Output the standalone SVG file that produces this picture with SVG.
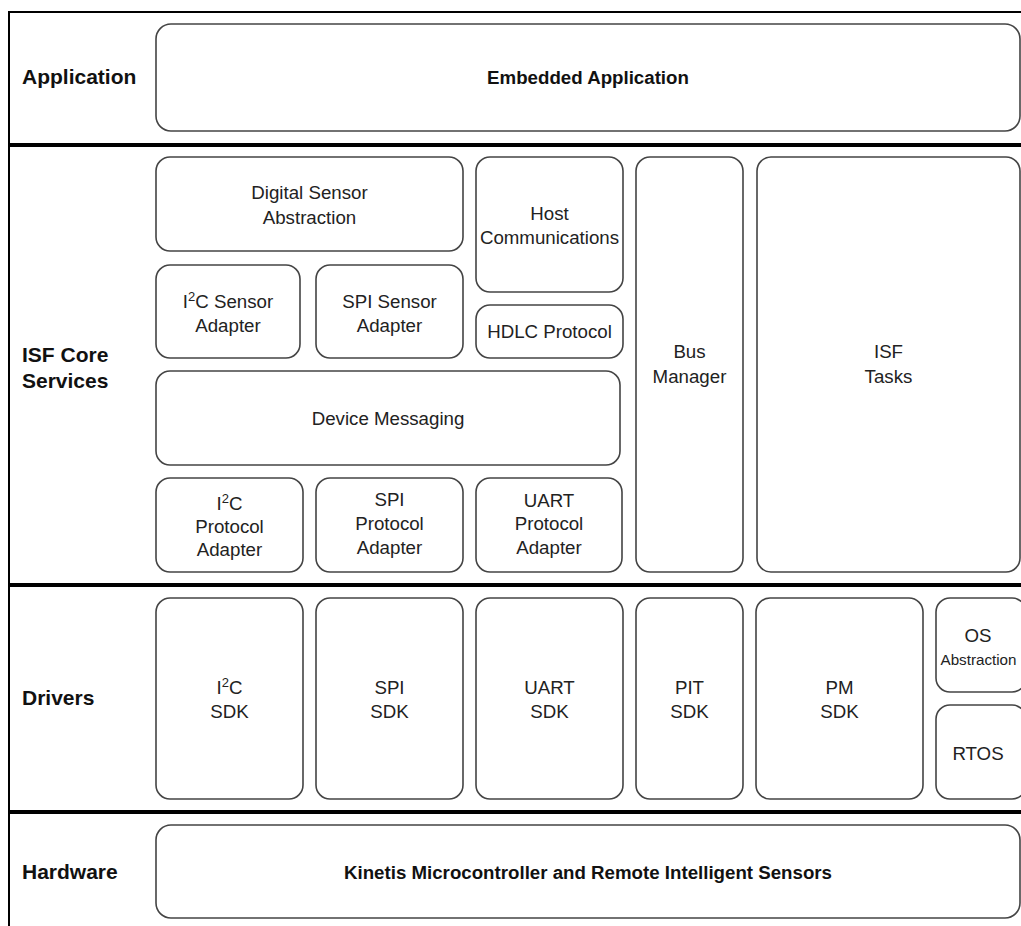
<svg xmlns="http://www.w3.org/2000/svg" width="1021" height="926" viewBox="0 0 1021 926">
<style>
.box{fill:#fff;stroke:#444;stroke-width:1.6}
.t{font-family:"Liberation Sans",Arial,sans-serif;font-size:18.7px;fill:#222;text-anchor:middle}
.t.sm{font-size:15.2px}
.b{font-family:"Liberation Sans",Arial,sans-serif;font-size:18.7px;font-weight:bold;fill:#111;text-anchor:middle}
.lab{font-family:"Liberation Sans",Arial,sans-serif;font-size:21px;font-weight:bold;fill:#111}
.sep{stroke:#000;stroke-width:3.8}
.frame{stroke:#000;stroke-width:2;fill:none}
</style>
<rect width="1021" height="926" fill="#fff"/>
<g id="frame">
<line class="frame" x1="9" y1="12" x2="1021" y2="12"/>
<line class="frame" x1="9" y1="11" x2="9" y2="926"/>
<line class="sep" x1="8" y1="145" x2="1021" y2="145"/>
<line class="sep" x1="8" y1="585" x2="1021" y2="585"/>
<line class="sep" x1="8" y1="812" x2="1021" y2="812"/>
</g>
<g id="labels">
<text class="lab" x="22" y="84">Application</text>
<text class="lab" x="22" y="362">ISF Core</text>
<text class="lab" x="22" y="388">Services</text>
<text class="lab" x="22" y="705">Drivers</text>
<text class="lab" x="22" y="879">Hardware</text>
</g>
<g id="embedded-application">
<rect class="box" x="156" y="24" width="864" height="107" rx="15"/>
<text class="b" x="588" y="84">Embedded Application</text>
</g>
<g id="digital-sensor-abstraction">
<rect class="box" x="156" y="157" width="307" height="94" rx="14"/>
<text class="t" x="309.5" y="199">Digital Sensor</text>
<text class="t" x="309.5" y="224">Abstraction</text>
</g>
<g id="i2c-sensor-adapter">
<rect class="box" x="156" y="265" width="144" height="93" rx="14"/>
<text class="t" x="228" y="308">I<tspan font-size="13" dy="-7">2</tspan><tspan dy="7">C Sensor</tspan></text>
<text class="t" x="228" y="332">Adapter</text>
</g>
<g id="spi-sensor-adapter">
<rect class="box" x="316" y="265" width="147" height="93" rx="14"/>
<text class="t" x="389.5" y="308">SPI Sensor</text>
<text class="t" x="389.5" y="332">Adapter</text>
</g>
<g id="host-communications">
<rect class="box" x="476" y="157" width="147" height="135" rx="14"/>
<text class="t" x="549.5" y="220">Host</text>
<text class="t" x="549.5" y="244">Communications</text>
</g>
<g id="hdlc-protocol">
<rect class="box" x="476" y="305" width="147" height="53" rx="14"/>
<text class="t" x="549.5" y="338">HDLC Protocol</text>
</g>
<g id="bus-manager">
<rect class="box" x="636" y="157" width="107" height="415" rx="14"/>
<text class="t" x="689.5" y="358">Bus</text>
<text class="t" x="689.5" y="383">Manager</text>
</g>
<g id="isf-tasks">
<rect class="box" x="757" y="157" width="263" height="415" rx="14"/>
<text class="t" x="888.5" y="358">ISF</text>
<text class="t" x="888.5" y="383">Tasks</text>
</g>
<g id="device-messaging">
<rect class="box" x="156" y="371" width="464" height="94" rx="14"/>
<text class="t" x="388" y="425">Device Messaging</text>
</g>
<g id="i2c-protocol-adapter">
<rect class="box" x="156" y="478" width="147" height="94" rx="14"/>
<text class="t" x="229.5" y="510">I<tspan font-size="13" dy="-7">2</tspan><tspan dy="7">C</tspan></text>
<text class="t" x="229.5" y="533">Protocol</text>
<text class="t" x="229.5" y="556">Adapter</text>
</g>
<g id="spi-protocol-adapter">
<rect class="box" x="316" y="478" width="147" height="94" rx="14"/>
<text class="t" x="389.5" y="506">SPI</text>
<text class="t" x="389.5" y="530">Protocol</text>
<text class="t" x="389.5" y="554">Adapter</text>
</g>
<g id="uart-protocol-adapter">
<rect class="box" x="476" y="478" width="146" height="94" rx="14"/>
<text class="t" x="549" y="507">UART</text>
<text class="t" x="549" y="530">Protocol</text>
<text class="t" x="549" y="554">Adapter</text>
</g>
<g id="i2c-sdk">
<rect class="box" x="156" y="598" width="147" height="201" rx="14"/>
<text class="t" x="229.5" y="694">I<tspan font-size="13" dy="-7">2</tspan><tspan dy="7">C</tspan></text>
<text class="t" x="229.5" y="718">SDK</text>
</g>
<g id="spi-sdk">
<rect class="box" x="316" y="598" width="147" height="201" rx="14"/>
<text class="t" x="389.5" y="694">SPI</text>
<text class="t" x="389.5" y="718">SDK</text>
</g>
<g id="uart-sdk">
<rect class="box" x="476" y="598" width="147" height="201" rx="14"/>
<text class="t" x="549.5" y="694">UART</text>
<text class="t" x="549.5" y="718">SDK</text>
</g>
<g id="pit-sdk">
<rect class="box" x="636" y="598" width="107" height="201" rx="14"/>
<text class="t" x="689.5" y="694">PIT</text>
<text class="t" x="689.5" y="718">SDK</text>
</g>
<g id="pm-sdk">
<rect class="box" x="756" y="598" width="167" height="201" rx="14"/>
<text class="t" x="839.5" y="694">PM</text>
<text class="t" x="839.5" y="718">SDK</text>
</g>
<g id="os-abstraction">
<rect class="box" x="936" y="598" width="90" height="94" rx="14"/>
<text class="t" x="978" y="642">OS</text>
<text class="t sm" x="978.5" y="665">Abstraction</text>
</g>
<g id="rtos">
<rect class="box" x="936" y="705" width="90" height="94" rx="14"/>
<text class="t" x="978" y="760">RTOS</text>
</g>
<g id="kinetis">
<rect class="box" x="156" y="825" width="864" height="93" rx="15"/>
<text class="b" x="588" y="879">Kinetis Microcontroller and Remote Intelligent Sensors</text>
</g>
<g id="connectors"></g>
</svg>
